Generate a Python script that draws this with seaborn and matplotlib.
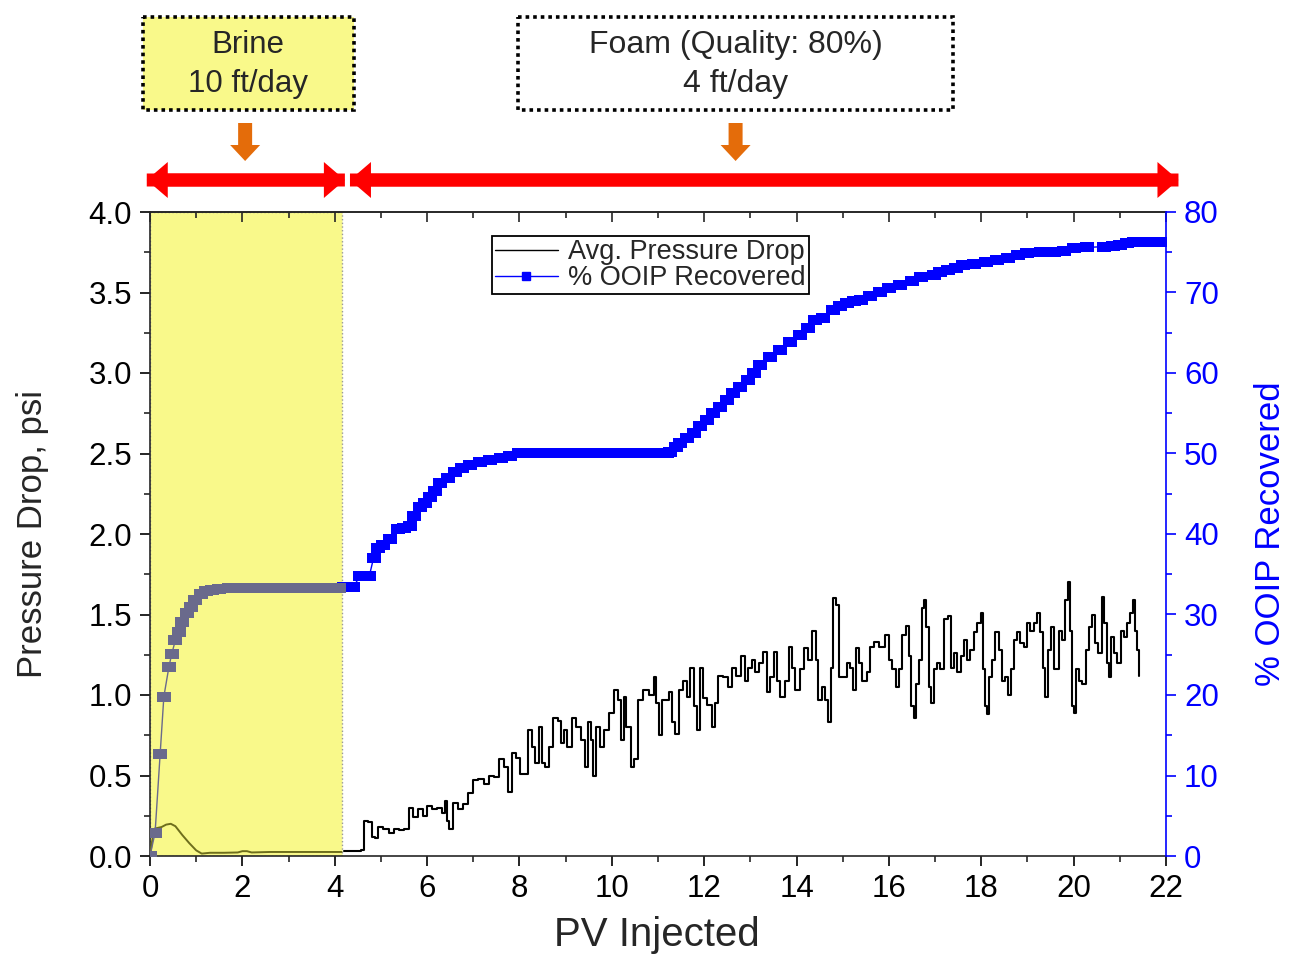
import matplotlib
matplotlib.use("Agg")
import matplotlib.pyplot as plt
import seaborn as sns
import numpy as np
import pandas as pd
from matplotlib.path import Path
from matplotlib.patches import Rectangle, FancyArrow
from matplotlib.lines import Line2D
from matplotlib.ticker import MultipleLocator, FormatStrFormatter

sns.set_style("ticks")
plt.rcParams["font.family"] = ["Liberation Sans", "DejaVu Sans"]

# ---------------- data ----------------
# Average pressure drop (psi) versus pore volumes injected
PV_PRESSURE = [
    0.00, 0.05, 0.10, 0.25, 0.35, 0.45, 0.55, 0.70, 0.85, 1.00, 1.12, 1.30, 1.60,
    1.90, 2.00, 2.10, 2.20, 2.60, 3.00, 3.50, 4.15,
    4.20, 4.55, 4.59, 4.69, 4.77, 4.84, 4.91, 4.98, 5.13, 5.24, 5.34, 5.45, 5.56,
    5.65, 5.74, 5.85, 5.96, 6.05, 6.17, 6.28, 6.36, 6.41, 6.46, 6.50, 6.61, 6.72,
    6.83, 6.93, 7.04, 7.15, 7.30, 7.40, 7.51, 7.62, 7.69, 7.80, 7.87, 7.98, 8.05,
    8.13, 8.23, 8.31, 8.38, 8.45, 8.52, 8.59, 8.67, 8.78, 8.88, 8.92, 8.99, 9.09,
    9.17, 9.28, 9.39, 9.46, 9.52, 9.57, 9.63, 9.68, 9.79, 9.89, 10.00, 10.10,
    10.18, 10.22, 10.29, 10.34, 10.40, 10.44, 10.51, 10.62, 10.73, 10.87, 10.94,
    10.98, 11.05, 11.12, 11.19, 11.27, 11.34, 11.41, 11.48, 11.59, 11.66, 11.74,
    11.81, 11.86, 11.95, 12.00, 12.13, 12.21, 12.28, 12.34, 12.46, 12.57, 12.64,
    12.75, 12.86, 12.91, 13.00, 13.07, 13.15, 13.22, 13.33, 13.40, 13.47, 13.56,
    13.61, 13.69, 13.80, 13.87, 13.94, 14.01, 14.12, 14.21, 14.30, 14.39, 14.45,
    14.50, 14.59, 14.66, 14.71, 14.77, 14.82, 14.91, 14.95, 15.06, 15.13, 15.20,
    15.25, 15.33, 15.38, 15.47, 15.56, 15.62, 15.74, 15.85, 15.96, 16.03, 16.11,
    16.18, 16.25, 16.32, 16.40, 16.45, 16.52, 16.55, 16.61, 16.68, 16.74, 16.77,
    16.83, 16.89, 16.94, 17.01, 17.08, 17.15, 17.23, 17.32, 17.37, 17.44, 17.52,
    17.59, 17.66, 17.73, 17.80, 17.88, 17.95, 18.02, 18.07, 18.11, 18.15, 18.20,
    18.27, 18.34, 18.42, 18.47, 18.55, 18.60, 18.67, 18.74, 18.81, 18.88, 18.96,
    19.03, 19.10, 19.17, 19.25, 19.30, 19.36, 19.41, 19.47, 19.54, 19.59, 19.64,
    19.71, 19.79, 19.85, 19.90, 19.95, 19.99, 20.03, 20.08, 20.15, 20.22, 20.30,
    20.37, 20.43, 20.50, 20.57, 20.64, 20.69, 20.74, 20.79, 20.84, 20.91, 20.98,
    21.05, 21.12, 21.20, 21.26, 21.31, 21.36, 21.40, 21.42,
]
DP_PSI = [
    0.00, 0.10, 0.17, 0.18, 0.195, 0.20, 0.185, 0.13, 0.08, 0.035, 0.015, 0.02, 0.02,
    0.022, 0.03, 0.03, 0.022, 0.025, 0.025, 0.025, 0.025,
    0.03, 0.03, 0.04, 0.22, 0.21, 0.12, 0.11, 0.18, 0.17, 0.14, 0.17, 0.16, 0.17,
    0.30, 0.24, 0.29, 0.25, 0.31, 0.29, 0.30, 0.27, 0.34, 0.22, 0.17, 0.33, 0.29,
    0.32, 0.39, 0.47, 0.48, 0.45, 0.50, 0.49, 0.60, 0.55, 0.40, 0.64, 0.61, 0.51,
    0.51, 0.78, 0.68, 0.58, 0.80, 0.58, 0.55, 0.68, 0.86, 0.84, 0.70, 0.78, 0.68,
    0.86, 0.80, 0.72, 0.55, 0.83, 0.72, 0.50, 0.80, 0.68, 0.78, 0.89, 1.03,
    0.97, 0.72, 0.99, 0.80, 0.80, 0.55, 0.60, 0.97, 1.03, 1.00, 1.11,
    0.95, 0.75, 0.97, 0.97, 1.02, 0.83, 0.76, 1.03, 1.09, 0.99, 1.17,
    0.93, 0.78, 1.17, 0.98, 0.94, 0.80, 0.95, 1.12, 1.11, 1.05, 1.17,
    1.12, 1.24, 1.09, 1.17, 1.22, 1.14, 1.20, 1.27, 1.02, 1.11, 1.27,
    1.09, 0.99, 1.09, 1.30, 1.17, 1.03, 1.16, 1.29, 1.22, 1.40, 1.22,
    0.97, 1.05, 0.97, 0.83, 1.17, 1.60, 1.56, 1.11, 1.11, 1.20, 1.17,
    1.03, 1.29, 1.20, 1.09, 1.14, 1.30, 1.33, 1.30, 1.37, 1.22, 1.16,
    1.05, 1.16, 1.37, 1.43, 1.24, 0.93, 0.86, 1.07, 1.22, 1.54, 1.59,
    1.42, 1.05, 0.95, 1.16, 1.20, 1.16, 1.47, 1.49, 1.17, 1.26, 1.14,
    1.24, 1.34, 1.22, 1.28, 1.39, 1.45, 1.51, 1.16, 0.93, 0.88, 1.11,
    1.22, 1.39, 1.28, 1.09, 1.11, 1.00, 1.16, 1.34, 1.39, 1.32, 1.30,
    1.45, 1.40, 1.45, 1.51, 1.39, 1.17, 0.99, 1.28, 1.42, 1.16, 1.16,
    1.40, 1.34, 1.59, 1.70, 1.40, 0.93, 0.89, 1.16, 1.09, 1.07, 1.28,
    1.42, 1.50, 1.32, 1.26, 1.61, 1.45, 1.20, 1.11, 1.36, 1.26, 1.20,
    1.40, 1.36, 1.45, 1.51, 1.59, 1.40, 1.28, 1.12,
]

# Cumulative oil recovery (% OOIP) versus pore volumes injected
PV_RECOVERY = [
    0.00, 0.11, 0.22, 0.30, 0.41, 0.47, 0.55, 0.62, 0.70, 0.80, 0.88, 0.98, 1.10,
    1.22, 1.35, 1.50, 1.70, 1.85, 2.00, 2.15, 2.30, 2.45, 2.60, 2.75, 2.90, 3.05,
    3.20, 3.35, 3.50, 3.65, 3.80, 3.95, 4.10,
    4.20, 4.40, 4.55, 4.75, 4.84, 4.94, 5.05, 5.20, 5.37, 5.50, 5.62, 5.72, 5.85,
    5.95, 6.07, 6.18, 6.28, 6.45, 6.60, 6.75, 6.93, 7.15, 7.37, 7.60, 7.80, 8.00,
    8.20, 8.40, 8.60, 8.80, 9.00, 9.20, 9.40, 9.60, 9.80, 10.00, 10.20, 10.40,
    10.60, 10.80, 11.00, 11.20, 11.27, 11.38, 11.48, 11.62, 11.77, 11.92, 12.07,
    12.20, 12.35, 12.50, 12.63, 12.78, 12.94, 13.07, 13.20, 13.42, 13.65, 13.86,
    14.08, 14.25, 14.40, 14.58, 14.80, 14.95, 15.10, 15.25, 15.40, 15.60, 15.80,
    16.00, 16.25, 16.50, 16.70, 16.97, 17.10, 17.27, 17.45, 17.60, 17.85, 18.10,
    18.35, 18.57, 18.80, 19.00, 19.30, 19.57, 19.80, 20.00, 20.30, 20.65, 20.85,
    21.00, 21.15, 21.30, 21.50, 21.70, 21.90, 22.00,
]
OOIP_PCT = [
    0.0, 2.9, 12.7, 19.8, 23.5, 25.1, 26.8, 27.8, 29.1, 30.2, 30.9, 31.8, 32.5,
    32.9, 33.1, 33.2, 33.3, 33.3, 33.3, 33.3, 33.3, 33.3, 33.3, 33.3, 33.3, 33.3,
    33.3, 33.3, 33.3, 33.3, 33.3, 33.3, 33.3,
    33.4, 33.4, 34.8, 34.8, 37.0, 38.2, 38.6, 39.4, 40.6, 40.8, 41.0, 42.2, 43.4,
    43.8, 44.6, 45.4, 46.3, 47.0, 47.7, 48.2, 48.6, 49.0, 49.2, 49.4, 49.7, 50.0,
    50.0, 50.0, 50.0, 50.0, 50.0, 50.0, 50.0, 50.0, 50.0, 50.0, 50.0, 50.0,
    50.0, 50.0, 50.0, 50.0, 50.2, 50.8, 51.3, 51.9, 52.5, 53.4, 54.2,
    55.0, 55.8, 56.7, 57.5, 58.3, 59.1, 60.0, 61.0, 62.0, 62.9, 63.8,
    64.7, 65.6, 66.6, 66.8, 67.8, 68.3, 68.7, 68.9, 69.1, 69.6, 70.1,
    70.5, 70.9, 71.4, 71.9, 72.2, 72.5, 72.8, 73.1, 73.4, 73.6, 73.8,
    74.0, 74.3, 74.6, 74.9, 75.0, 75.0, 75.2, 75.5, 75.6, 75.7, 75.8,
    75.9, 76.1, 76.3, 76.3, 76.3, 76.3, 76.3,
]

# Injection stages
BRINE_END = 4.15
PV_MAX = 22.0
STAGE_LABELS = [["Brine", "10 ft/day"], ["Foam (Quality: 80%)", "4 ft/day"]]
LEGEND_LABELS = ["Avg. Pressure Drop", "% OOIP Recovered"]

pressure = pd.DataFrame({"pv": PV_PRESSURE, "dp": DP_PSI})
recovery = pd.DataFrame({"pv": PV_RECOVERY, "ooip": OOIP_PCT})

BLUE = "#0000FF"
BLUE_SHADED = "#6A6A8C"
BLACK_SHADED = "#6E6E1C"
YELLOW = "#F9F98A"
ORANGE = "#E46C0A"
RED = "#FF0000"

W, H = 1289, 957
fig = plt.figure(figsize=(W / 100, H / 100), dpi=100)
L, R, B, T = 150 / W, 1166 / W, 1 - 856 / H, 1 - 212 / H
ax = fig.add_axes([L, B, R - L, T - B])
ax2 = ax.twinx()

# brine stage shading
ax.axvspan(0, BRINE_END, facecolor=YELLOW, edgecolor="#9a9a9a",
           linestyle=":", linewidth=1.0, zorder=0)

# wide rectangular marker
rect = Path([(-0.72, -0.5), (0.72, -0.5), (0.72, 0.5), (-0.72, 0.5), (-0.72, -0.5)],
            [Path.MOVETO, Path.LINETO, Path.LINETO, Path.LINETO, Path.CLOSEPOLY])

in_brine_p = pressure[pressure.pv <= BRINE_END]
after_brine_p = pressure[pressure.pv > BRINE_END]
sns.lineplot(data=after_brine_p, x="pv", y="dp", ax=ax, color="black", lw=1.5,
             drawstyle="steps-mid", estimator=None, sort=False, legend=False, zorder=3)
sns.lineplot(data=in_brine_p, x="pv", y="dp", ax=ax, color=BLACK_SHADED, lw=1.4,
             estimator=None, sort=False, legend=False, zorder=3)

in_brine_r = recovery[recovery.pv <= BRINE_END]
after_brine_r = recovery[recovery.pv >= BRINE_END]
sns.lineplot(data=after_brine_r, x="pv", y="ooip", ax=ax2, color=BLUE, lw=1.0,
             marker=rect, markersize=10, markeredgewidth=0,
             estimator=None, sort=False, legend=False)
sns.lineplot(data=in_brine_r, x="pv", y="ooip", ax=ax2, color=BLUE_SHADED, lw=1.0,
             marker=rect, markersize=10, markeredgewidth=0,
             estimator=None, sort=False, legend=False)

# ---------------- axes ----------------
ax.set_xlim(0, PV_MAX)
ax.set_ylim(0, 4.0)
ax2.set_ylim(0, 80)
ax.xaxis.set_major_locator(MultipleLocator(2))
ax.xaxis.set_minor_locator(MultipleLocator(1))
ax.yaxis.set_major_locator(MultipleLocator(0.5))
ax.yaxis.set_minor_locator(MultipleLocator(0.25))
ax.yaxis.set_major_formatter(FormatStrFormatter("%.1f"))
ax2.yaxis.set_major_locator(MultipleLocator(10))
ax2.yaxis.set_minor_locator(MultipleLocator(5))

for a in (ax, ax2):
    for s in a.spines.values():
        s.set_linewidth(1.2)
ax.spines["right"].set_visible(False)
ax2.spines["left"].set_visible(False)
ax2.spines["top"].set_visible(False)
ax2.spines["bottom"].set_visible(False)
ax2.spines["right"].set_color(BLUE)

ax.tick_params(axis="both", which="major", direction="out", length=7, width=1.2,
               labelsize=22.5, colors="black", pad=6)
ax.tick_params(axis="both", which="minor", direction="out", length=4, width=1.2)
ax2.tick_params(axis="y", which="major", direction="out", length=7, width=1.2,
                labelsize=22.5, colors=BLUE, pad=6)
ax2.tick_params(axis="y", which="minor", direction="out", length=4, width=1.2,
                colors=BLUE)

top = ax.secondary_xaxis("top")
top.xaxis.set_major_locator(MultipleLocator(2))
top.xaxis.set_minor_locator(MultipleLocator(1))
top.tick_params(which="major", direction="in", length=7, width=1.2, labeltop=False)
top.tick_params(which="minor", direction="in", length=4, width=1.2)
top.spines["top"].set_linewidth(1.2)

ax.set_xlabel("PV Injected", fontsize=29)
ax.xaxis.set_label_coords(0.499, -0.093)
ax.set_ylabel("Pressure Drop, psi", fontsize=25)
ax.yaxis.set_label_coords(-0.116, 0.5)
ax.yaxis.label.set_verticalalignment("center")
ax2.set_ylabel("% OOIP Recovered", fontsize=25, color=BLUE)
ax2.yaxis.set_label_coords(1.103, 0.5)
ax2.yaxis.label.set_verticalalignment("center")
ax2.yaxis.label.set_rotation(90)

handles = [
    Line2D([], [], color="black", lw=1.0),
    Line2D([], [], color=BLUE, lw=1.0, marker="s", markersize=6),
]
leg = ax.legend(handles, LEGEND_LABELS, loc="upper left",
                bbox_to_anchor=(0.3366, 0.963), fontsize=19.5, frameon=True,
                fancybox=False, framealpha=1, edgecolor="black",
                borderpad=0.12, labelspacing=0.0, handlelength=2.3,
                handletextpad=0.4, borderaxespad=0)
leg.get_frame().set_linewidth(1.3)

# ---------------- stage annotations above the plot ----------------
ov = fig.add_axes([L, T, R - L, 1 - T])
ov.set_xlim(0, PV_MAX)
ov.set_ylim(212, 0)
ov.axis("off")

px = PV_MAX / (1166 - 150)  # data units per pixel along x

brine_mid = 2.13
foam_mid = 12.68
boxes = [(-0.15, 4.42, YELLOW, STAGE_LABELS[0], brine_mid, 22.5),
         (7.97, 17.38, "white", STAGE_LABELS[1], foam_mid, 23)]
for x0, x1, fc, lines, xm, fs in boxes:
    ov.add_patch(Rectangle((x0, 17), x1 - x0, 93, facecolor=fc, edgecolor="black",
                           linestyle=(0, (1, 1.1)), linewidth=2.6, clip_on=False))
    ov.text(xm, 45, lines[0], ha="center", va="center", fontsize=fs, clip_on=False)
    ov.text(xm, 84, lines[1], ha="center", va="center", fontsize=fs, clip_on=False)

# orange pointers
for xm in (2.06, 12.68):
    ov.add_patch(FancyArrow(xm, 123, 0, 38, width=14 * px, head_width=30 * px,
                            head_length=16, length_includes_head=True,
                            color=ORANGE, lw=0, clip_on=False))

# red double-headed stage spans
for x0, x1 in ((-0.07, BRINE_END + 0.07), (BRINE_END + 0.18, PV_MAX + 0.27)):
    ov.add_patch(FancyArrow(x0, 180, x1 - x0, 0, width=13, head_width=36,
                            head_length=21 * px, length_includes_head=True,
                            color=RED, lw=0, clip_on=False))
    ov.add_patch(FancyArrow(x1, 180, x0 - x1, 0, width=13, head_width=36,
                            head_length=21 * px, length_includes_head=True,
                            color=RED, lw=0, clip_on=False))

fig.savefig("out.png", dpi=100)
